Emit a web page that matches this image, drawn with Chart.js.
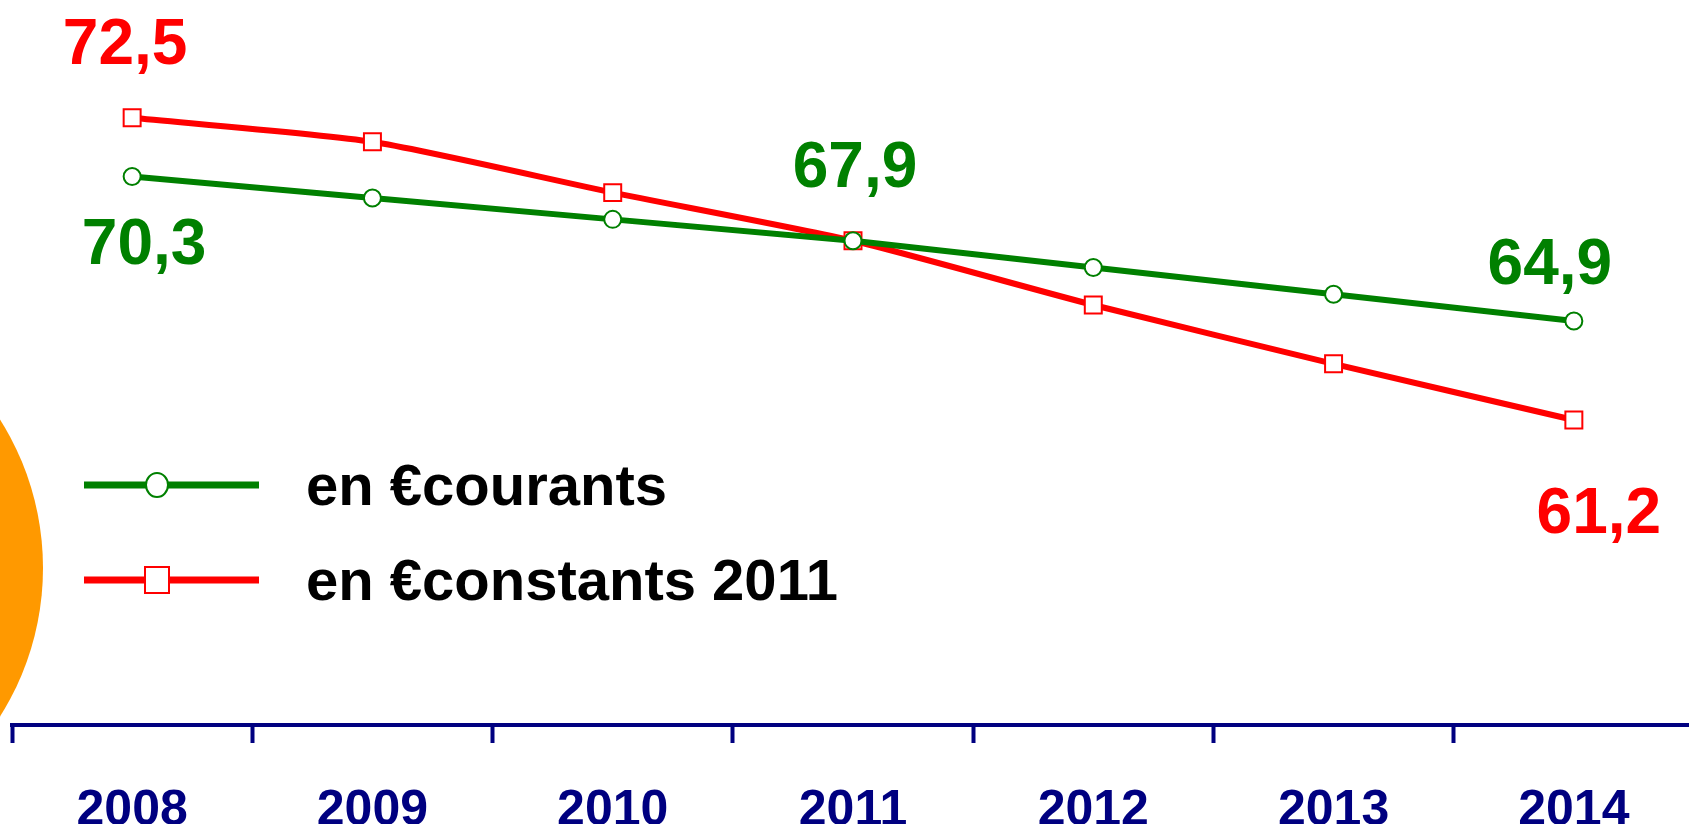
<!DOCTYPE html>
<html>
<head>
<meta charset="utf-8">
<script src="https://cdn.jsdelivr.net/npm/chart.js"></script>
<style>
  html, body { margin: 0; padding: 0; background: #fff; overflow: hidden; }
  #wrap { position: relative; width: 1694px; height: 824px; }
</style>
</head>
<body>
<div id="wrap"><canvas id="myChart"></canvas></div>
<script>
// data
const years = ['2008', '2009', '2010', '2011', '2012', '2013', '2014'];
const courants = [70.3, 69.5, 68.7, 67.9, 66.9, 65.9, 64.9];
const constants = [72.5, 71.6, 69.7, 67.9, 65.5, 63.3, 61.2];
const seriesNames = ['en €courants', 'en €constants 2011'];

const navy = '#000080';
const green = '#008000';
const red = '#FF0000';
const font = '"Liberation Sans", Arial, sans-serif';

// which values get a big label, and where it sits relative to the point
const valueLabels = [
  { ds: 1, i: 0, dx: -7, dy: -71 },
  { ds: 0, i: 0, dx: 12, dy: 70 },
  { ds: 0, i: 3, dx: 2, dy: -71 },
  { ds: 0, i: 6, dx: -24, dy: -55 },
  { ds: 1, i: 6, dx: 25, dy: 95 }
];

const fmt = v => v.toFixed(1).replace('.', ',');

const decoPlugin = {
  id: 'deco',
  beforeDraw(chart) {
    const ctx = chart.ctx;
    ctx.save();
    ctx.fillStyle = '#FF9900';
    ctx.beginPath();
    ctx.arc(-235, 568, 278, 0, Math.PI * 2);
    ctx.fill();
    ctx.restore();
  }
};

const legendPlugin = {
  id: 'sideLegend',
  afterDraw(chart) {
    const ctx = chart.ctx;
    const rows = [485, 580];
    ctx.save();
    chart.data.datasets.forEach((ds, k) => {
      const y = rows[k];
      ctx.strokeStyle = ds.borderColor;
      ctx.lineWidth = 7;
      ctx.beginPath();
      ctx.moveTo(84, y);
      ctx.lineTo(259, y);
      ctx.stroke();
      ctx.fillStyle = '#fff';
      ctx.lineWidth = 2;
      ctx.beginPath();
      if (ds.pointStyle === 'rect') {
        ctx.rect(157 - 12, y - 13, 24, 26);
      } else {
        ctx.ellipse(157, y, 11, 12, 0, 0, Math.PI * 2);
      }
      ctx.fill();
      ctx.stroke();
      ctx.fillStyle = '#000';
      ctx.font = 'bold 58px ' + font;
      ctx.textAlign = 'left';
      ctx.textBaseline = 'middle';
      ctx.fillText(ds.label, 306, y + 4);
    });
    ctx.restore();
  }
};

const labelPlugin = {
  id: 'valueLabels',
  afterDatasetsDraw(chart) {
    const ctx = chart.ctx;
    ctx.save();
    ctx.font = 'bold 64px ' + font;
    ctx.textAlign = 'center';
    ctx.textBaseline = 'middle';
    valueLabels.forEach(l => {
      const ds = chart.data.datasets[l.ds];
      const pt = chart.getDatasetMeta(l.ds).data[l.i];
      ctx.fillStyle = ds.borderColor;
      ctx.fillText(fmt(ds.data[l.i]), pt.x + l.dx, pt.y + l.dy);
    });
    ctx.restore();
  }
};

new Chart('myChart', {
  type: 'line',
  data: {
    labels: years,
    datasets: [
      {
        label: seriesNames[0],
        data: courants,
        borderColor: green,
        borderWidth: 6,
        tension: 0,
        pointStyle: 'circle',
        pointRadius: 8.5,
        pointBorderWidth: 2,
        pointBackgroundColor: '#fff',
        pointBorderColor: green
      },
      {
        label: seriesNames[1],
        data: constants,
        borderColor: red,
        borderWidth: 6,
        tension: 0.2,
        pointStyle: 'rect',
        pointRadius: 12,
        pointBorderWidth: 2,
        pointBackgroundColor: '#fff',
        pointBorderColor: red
      }
    ]
  },
  options: {
    responsive: true,
    maintainAspectRatio: false,
    animation: false,
    events: [],
    layout: { autoPadding: false, padding: { left: 12, right: 0, top: 0, bottom: 0 } },
    plugins: {
      legend: { display: false },
      tooltip: { enabled: false },
      title: { display: false }
    },
    scales: {
      x: {
        offset: true,
        grid: {
          display: true,
          offset: true,
          drawOnChartArea: false,
          drawTicks: true,
          tickLength: 18,
          tickWidth: 4,
          tickColor: navy
        },
        border: { display: true, color: navy, width: 4 },
        ticks: {
          color: navy,
          padding: 38,
          font: { family: font, size: 50, weight: 'bold' }
        },
        afterFit(scale) { scale.height = 99; }
      },
      y: {
        display: false,
        min: 49.8,
        max: 76.9
      }
    }
  },
  plugins: [decoPlugin, labelPlugin, legendPlugin]
});
</script>
</body>
</html>
